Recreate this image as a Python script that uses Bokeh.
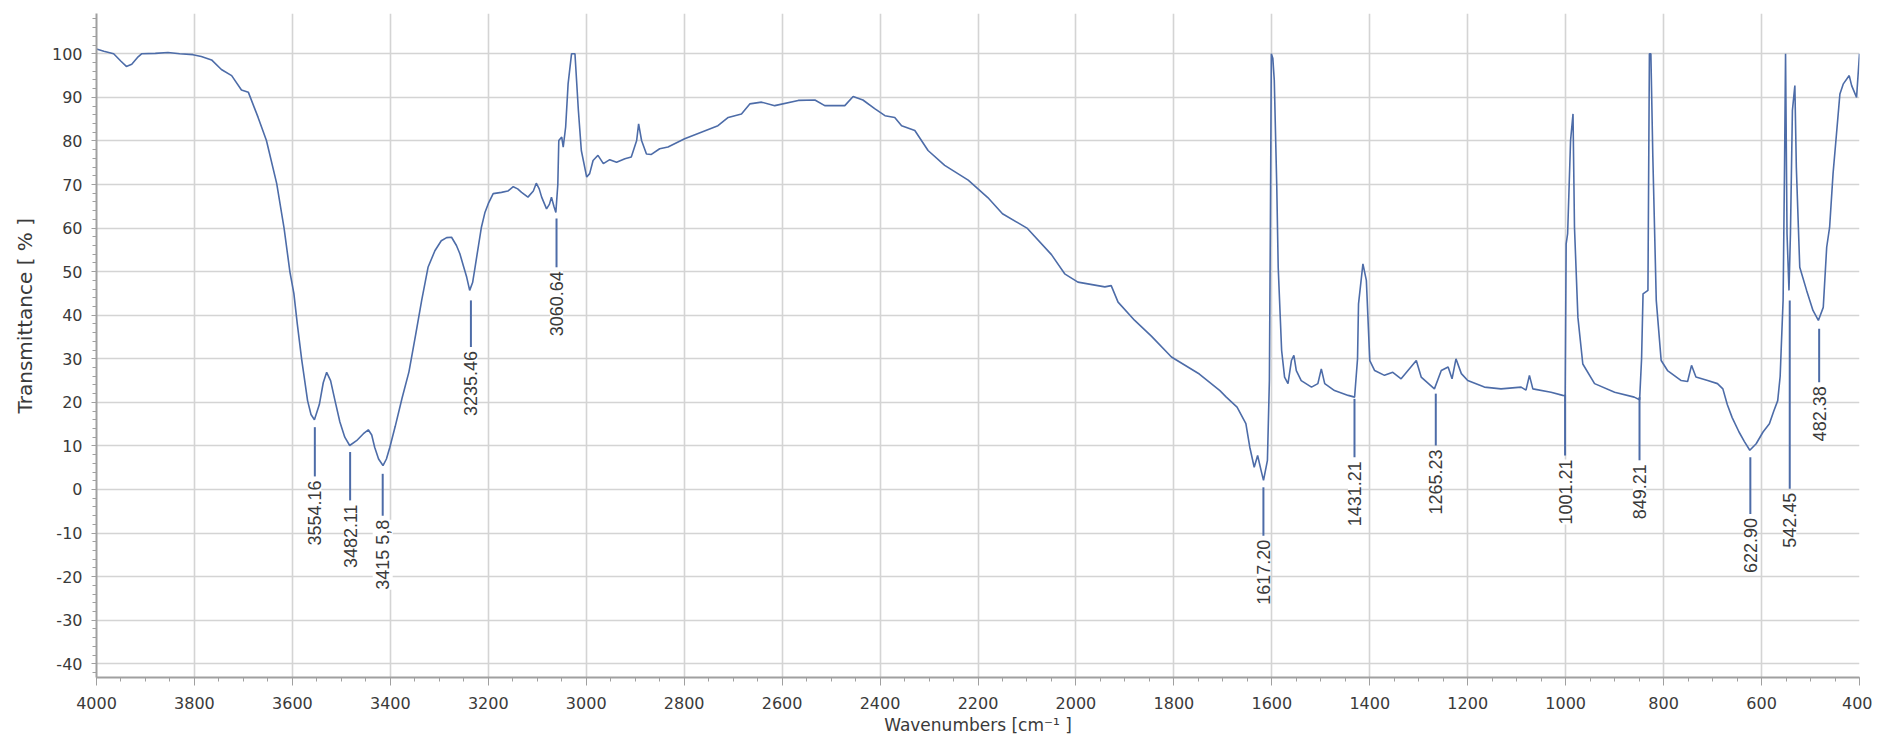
from math import pi
from bokeh.plotting import figure
from bokeh.models import (ColumnDataSource, LabelSet, Range1d, SingleIntervalTicker,
                          PrintfTickFormatter, Title)
from bokeh.core.properties import value
from bokeh.embed import file_html
from bokeh.resources import INLINE

# ---------------- data ----------------
wavenumber = [
    4000, 3985, 3965, 3950, 3939, 3928, 3915, 3908, 3880, 3854, 3830, 3803, 3786, 3765,
    3745, 3724, 3704, 3690, 3670, 3653, 3632, 3617, 3605, 3597, 3590, 3581, 3569, 3562,
    3555, 3545, 3537, 3530, 3522, 3513, 3503, 3493, 3483, 3469, 3455, 3445, 3438, 3432,
    3424, 3415, 3408, 3401, 3390, 3376, 3362, 3348, 3336, 3323, 3309, 3296, 3285, 3275,
    3265, 3258, 3250, 3244, 3238, 3232, 3227, 3220, 3214, 3207, 3200, 3190, 3173, 3160,
    3149, 3140, 3132, 3119, 3108, 3102, 3096, 3091, 3081, 3075, 3071, 3066, 3062, 3058,
    3056, 3050, 3047, 3042, 3037, 3030, 3023, 3016, 3010, 2999, 2993, 2986, 2976, 2965,
    2952, 2938, 2921, 2908, 2897, 2893, 2887, 2877, 2867, 2850, 2833, 2799, 2765, 2731,
    2710, 2683, 2666, 2642, 2615, 2567, 2533, 2513, 2472, 2455, 2435, 2411, 2390, 2370,
    2356, 2329, 2302, 2268, 2220, 2180, 2150, 2100, 2050, 2023, 1996, 1941, 1928, 1914,
    1880, 1846, 1805, 1748, 1706, 1693, 1671, 1653, 1645, 1636, 1629, 1622, 1617, 1609,
    1605, 1603, 1601, 1598, 1595, 1590, 1587, 1580, 1574, 1567, 1560, 1555, 1550, 1540,
    1519, 1506, 1499, 1492, 1472, 1444, 1431, 1425, 1423, 1414, 1407, 1400, 1390, 1370,
    1353, 1336, 1305, 1295, 1268, 1254, 1240, 1232, 1224, 1213, 1200, 1166, 1132, 1091,
    1081, 1074, 1067, 1030, 1006, 1001, 999, 996, 990, 985, 982, 975, 965, 941,
    900, 860, 849, 845, 842, 832, 829, 826, 822, 815, 805, 792, 764, 751,
    743, 734, 710, 690, 679, 670, 660, 646, 635, 624, 611, 597, 584, 575,
    567, 562, 560, 556, 553, 551, 548, 544, 541, 537, 532, 529, 522, 508,
    495, 484, 474, 467, 461, 454, 447, 440, 433, 421, 416, 406, 400,
]
transmittance = [
    101.1, 100.6, 100.0, 98.3, 97.1, 97.6, 99.3, 100.0, 100.1, 100.3, 100.0, 99.8, 99.4, 98.6,
    96.4, 95.0, 91.7, 91.2, 85.4, 80.1, 70.2, 60.0, 49.9, 45.0, 38.0, 29.8, 20.4, 17.2,
    16.0, 19.5, 24.5, 26.9, 25.0, 20.4, 15.5, 12.0, 10.1, 11.2, 12.8, 13.7, 12.5, 9.7,
    7.0, 5.5, 7.0, 9.7, 14.5, 21.0, 27.0, 35.7, 43.4, 51.0, 54.8, 57.1, 57.8, 57.9,
    56.0, 54.1, 51.0, 48.7, 45.7, 47.5, 51.0, 56.0, 60.2, 63.5, 65.6, 67.9, 68.2, 68.5,
    69.5, 69.0, 68.2, 67.1, 68.5, 70.3, 69.0, 67.1, 64.4, 65.5, 67.1, 65.0, 63.6, 70.0,
    80.1, 80.9, 78.6, 83.2, 93.1, 100.0, 100.0, 87.0, 77.8, 71.7, 72.5, 75.5, 76.7, 74.8,
    75.7, 75.1, 75.9, 76.3, 80.1, 83.9, 80.1, 77.0, 76.9, 78.2, 78.6, 80.5, 82.0, 83.5,
    85.4, 86.2, 88.5, 88.9, 88.1, 89.3, 89.4, 88.1, 88.1, 90.2, 89.4, 87.4, 85.8, 85.4,
    83.5, 82.4, 77.8, 74.4, 71.0, 67.0, 63.3, 60.0, 53.9, 49.5, 47.6, 46.5, 46.8, 43.0,
    38.8, 35.2, 30.4, 26.5, 22.7, 21.2, 18.9, 15.1, 9.7, 5.1, 7.8, 4.4, 2.1, 6.7,
    25.0, 60.0, 100.0, 99.0, 93.9, 70.0, 51.0, 31.9, 25.8, 24.3, 29.6, 30.8, 27.3, 25.0,
    23.5, 24.3, 27.7, 24.3, 22.7, 21.6, 21.2, 30.0, 42.6, 51.8, 48.0, 29.6, 27.3, 26.2,
    26.9, 25.4, 29.6, 25.8, 23.1, 27.3, 28.1, 25.4, 30.0, 26.6, 25.0, 23.5, 23.1, 23.5,
    22.8, 26.2, 23.1, 22.3, 21.6, 21.5, 56.4, 58.7, 80.1, 86.2, 60.2, 39.5, 28.8, 24.3,
    22.3, 21.2, 20.6, 30.0, 44.9, 45.7, 100.0, 100.0, 76.3, 43.4, 29.6, 27.3, 25.0, 24.8,
    28.5, 25.8, 25.0, 24.3, 23.1, 19.5, 16.5, 13.2, 11.0, 9.0, 10.5, 13.2, 15.1, 18.0,
    20.4, 26.0, 31.9, 43.4, 75.0, 100.0, 58.7, 45.7, 58.7, 87.0, 92.7, 74.0, 51.0, 45.7,
    41.1, 38.8, 41.8, 55.6, 60.2, 72.5, 81.6, 90.8, 93.1, 95.0, 92.7, 90.0, 100.0,
]

# peak annotations: position, label text, marker line top / bottom (transmittance)
peak_wn = [3554.16, 3482.11, 3415.58, 3235.46, 3060.64, 1617.20, 1431.21,
           1265.23, 1001.21, 849.21, 622.90, 542.45, 482.38]
peak_text = ["3554.16", "3482.11", "3415 5,8", "3235.46", "3060.64", "1617.20", "1431.21",
             "1265.23", "1001.21", "849.21", "622.90", "542.45", "482.38"]
line_top = [14.3, 8.6, 3.6, 43.4, 62.2, 0.5, 20.8, 22.0, 21.6, 21.2, 7.4, 43.4, 36.9]
line_bottom = [3.0, -2.5, -6.0, 32.7, 51.0, -10.6, 7.4, 10.1, 7.8, 6.7, -5.6, 0.2, 24.6]

x_ticks_step = 200
y_ticks_step = 10

# ---------------- figure ----------------
LINE_COLOR = "#4d6ca8"
GRID_COLOR = "#d4d4d4"
AXIS_COLOR = "#a0a0a0"
TEXT_COLOR = "#3a3a3a"

p = figure(
    frame_width=1763, frame_height=664,
    x_range=Range1d(4000, 400), y_range=Range1d(-43.15, 109.25),
    output_backend="svg", toolbar_location=None,
    min_border_left=95, min_border_right=13, min_border_top=13, min_border_bottom=58,
    background_fill_color="white", border_fill_color="white",
)
p.outline_line_color = None

p.xaxis.ticker = SingleIntervalTicker(interval=x_ticks_step, num_minor_ticks=4)
p.yaxis.ticker = SingleIntervalTicker(interval=y_ticks_step, num_minor_ticks=5)
p.yaxis.formatter = PrintfTickFormatter(format="%d")

for ax in (p.xaxis, p.yaxis):
    ax.axis_line_color = AXIS_COLOR
    ax.axis_line_width = 2
    ax.major_tick_line_color = AXIS_COLOR
    ax.minor_tick_line_color = AXIS_COLOR
    ax.major_tick_in = 0
    ax.minor_tick_in = 0
    ax.major_label_text_font = "DejaVu Sans"
    ax.major_label_text_font_size = "16px"
    ax.major_label_text_color = TEXT_COLOR

p.xaxis.major_tick_out = 8
p.xaxis.minor_tick_out = 4
p.xaxis.major_label_standoff = 11
p.yaxis.major_tick_out = 5
p.yaxis.minor_tick_out = 4
p.yaxis.major_label_standoff = 9

p.xaxis.axis_label = "Wavenumbers [cm\u207b\u00b9 ]"
p.xaxis.axis_label_text_font = "DejaVu Sans"
p.xaxis.axis_label_text_font_size = "17px"
p.xaxis.axis_label_text_font_style = "normal"
p.xaxis.axis_label_text_color = TEXT_COLOR
p.xaxis.axis_label_standoff = 3

p.xgrid.grid_line_color = GRID_COLOR
p.ygrid.grid_line_color = GRID_COLOR
p.xgrid.grid_line_width = 1.6
p.ygrid.grid_line_width = 1.6

# spectrum
p.line(wavenumber, transmittance, line_color=LINE_COLOR, line_width=1.6)

# peak markers and labels
src = ColumnDataSource(dict(wn=peak_wn, text=peak_text, top=line_top, bottom=line_bottom))
p.segment(x0="wn", y0="top", x1="wn", y1="bottom", source=src,
          line_color=LINE_COLOR, line_width=2)
labels = LabelSet(
    x="wn", y="bottom", text="text", source=src,
    angle=pi / 2, text_align="right", text_baseline="middle", y_offset=-4,
    text_font=value("Liberation Sans"), text_font_size="18px", text_color=TEXT_COLOR,
    background_fill_color="white",
)
p.add_layout(labels)

# y axis title (starts well above the frame bottom, as in the reference)
ytitle = Title(
    text="Transmittance [ % ]", align="left", offset=264,
    vertical_align="middle", standoff=22,
    text_font="DejaVu Sans", text_font_size="20px", text_font_style="normal",
    text_color=TEXT_COLOR,
)
p.add_layout(ytitle, "left")

open("out.html", "w").write(file_html(p, INLINE))
